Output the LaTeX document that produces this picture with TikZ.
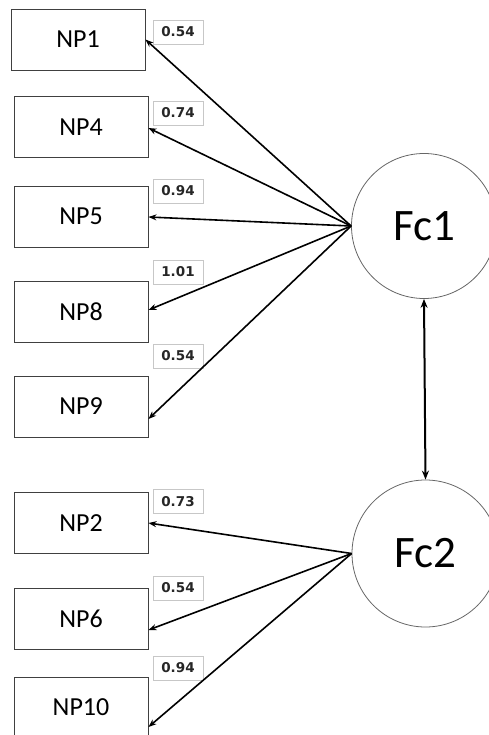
\documentclass[tikz,border=0pt]{standalone}
\usepackage{fontspec}
\setmainfont{Carlito}
\newfontfamily\lblfont{DejaVu Sans}
\usetikzlibrary{arrows.meta,calc}
\begin{document}
\begin{tikzpicture}[x=1pt,y=-1pt,
  npbox/.style={draw=black!75, line width=0.9pt, minimum width=134pt, minimum height=61pt, inner sep=0pt, font=\fontsize{26}{30}\selectfont},
  fcirc/.style={draw=black!60, line width=0.8pt, circle, inner sep=0pt, font=\fontsize{45}{50}\selectfont},
  lbl/.style={draw=black!22, line width=0.8pt, minimum width=50pt, minimum height=24pt, inner sep=0pt, font=\lblfont\fontsize{13.5}{15}\selectfont\bfseries, text=black!85},
  load/.style={-{Stealth[length=8pt,width=6pt]}, line width=1.6pt},
  cov/.style={{Stealth[length=9pt,width=7pt]}-{Stealth[length=9pt,width=7pt]}, line width=2pt}
]
\useasboundingbox (0,0) rectangle (489,735);
% observed variables
\node[npbox] (np1) at (78,39.5) {NP1};
\node[npbox] (np4) at (81,127) {NP4};
\node[npbox] (np5) at (81,216.5) {NP5};
\node[npbox] (np8) at (81,311.5) {NP8};
\node[npbox] (np9) at (81,406.5) {NP9};
\node[npbox] (np2) at (81,523) {NP2};
\node[npbox] (np6) at (81,618.5) {NP6};
\node[npbox] (np10) at (81,707.5) {NP10};
% factors
\node[fcirc, minimum size=145pt] (fc1) at (424,226) {Fc1};
\node[fcirc, minimum size=147pt] (fc2) at (425.5,553.5) {Fc2};
% loading labels
\node[lbl] (l1) at (178,32) {0.54};
\node[lbl] (l4) at (178,113) {0.74};
\node[lbl] (l5) at (178,191) {0.94};
\node[lbl] (l8) at (178,272) {1.01};
\node[lbl] (l9) at (178,356) {0.54};
\node[lbl] (l2) at (178,501.5) {0.73};
\node[lbl] (l6) at (178,588) {0.54};
\node[lbl] (l10) at (178,668) {0.94};
% loadings
\draw[load] (fc1.west) -- (np1.east);
\draw[load] (fc1.west) -- ($(np4.east)+(0,1)$);
\draw[load] (fc1.west) -- ($(np5.east)+(0,0.5)$);
\draw[load] (fc1.west) -- ($(np8.east)+(0,-1.5)$);
\draw[load] (fc1.west) -- ($(np9.east)+(0,12.5)$);
\draw[load] (fc2.west) -- (np2.east);
\draw[load] (fc2.west) -- ($(np6.east)+(0,11.5)$);
\draw[load] (fc2.west) -- ($(np10.east)+(0,19.5)$);
% covariance
\draw[cov] (fc1.south) -- (fc2.north);
\end{tikzpicture}
\end{document}
